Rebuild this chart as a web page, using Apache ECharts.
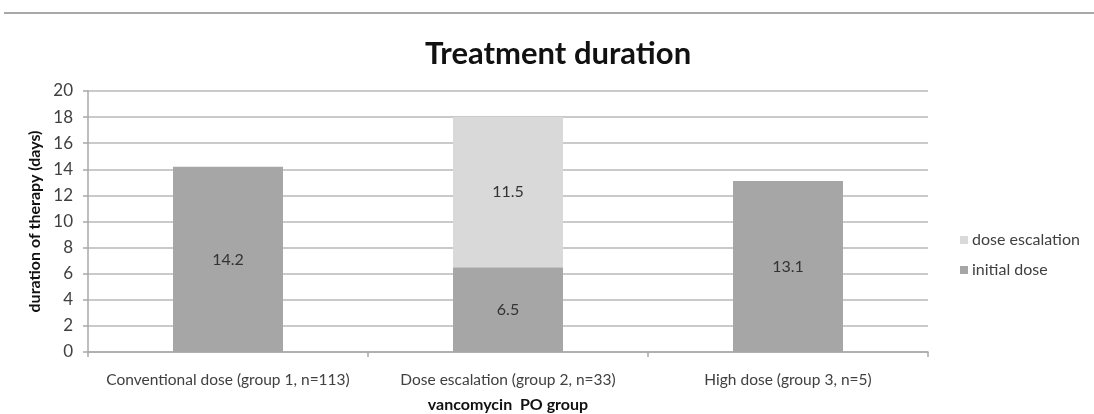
<!DOCTYPE html>
<html>
<head>
<meta charset="utf-8">
<script src="https://cdn.jsdelivr.net/npm/echarts@6/dist/echarts.min.js"></script>
<style>html,body{margin:0;padding:0;background:#fff;}#c{width:1094px;height:414px;}</style>
</head>
<body>
<div id="c"></div>
<script>
var categories = ['Conventional dose (group 1, n=113)', 'Dose escalation (group 2, n=33)', 'High dose (group 3, n=5)'];
var initialDose = [14.2, 6.5, 13.1];
var doseEscalation = [null, 11.5, null];
var yTicks = [0, 20, 2];

var chart = echarts.init(document.getElementById('c'));
var font = 'Lato, "Open Sans", sans-serif';
chart.setOption({
  backgroundColor: '#fff',
  animation: false,
  textStyle: { fontFamily: font },
  title: {
    text: 'Treatment duration',
    left: 553, top: 33, textAlign: 'center',
    textStyle: { fontFamily: font, fontSize: 31, fontWeight: 'bold', color: '#111' }
  },
  graphic: [{
    type: 'line', shape: { x1: 4, y1: 13, x2: 1094, y2: 13 },
    style: { stroke: '#a8a8a8', lineWidth: 2 }
  }],
  legend: {
    orient: 'vertical', left: 955, top: 227, itemWidth: 8, itemHeight: 8, itemGap: 14,
    icon: 'rect',
    data: ['dose escalation', 'initial dose'],
    textStyle: { fontFamily: font, fontSize: 16, color: '#404040', padding: [0, 0, 0, -1] }
  },
  grid: { left: 88, right: 166, top: 91, bottom: 62, containLabel: false, outerBoundsMode: 'none' },
  xAxis: {
    type: 'category', data: categories,
    name: 'vancomycin  PO group', nameLocation: 'middle', nameGap: 45,
    nameTextStyle: { fontFamily: font, fontSize: 16, fontWeight: 'bold', color: '#111' },
    axisLine: { lineStyle: { color: '#a8a8a8', width: 1.5 } },
    axisTick: { show: true, length: 5, alignWithLabel: false, lineStyle: { color: '#a8a8a8', width: 1.5 } },
    axisLabel: { interval: 0, fontFamily: font, fontSize: 15.5, color: '#404040', margin: 20 }
  },
  yAxis: {
    type: 'value', min: yTicks[0], max: yTicks[1], interval: yTicks[2],
    name: 'duration of therapy (days)', nameLocation: 'middle', nameGap: 43,
    nameTextStyle: { fontFamily: font, fontSize: 16, fontWeight: 'bold', color: '#111' },
    axisLine: { show: true, lineStyle: { color: '#a8a8a8', width: 1.5 } },
    axisTick: { show: true, length: 5, lineStyle: { color: '#a8a8a8', width: 1.5 } },
    axisLabel: { fontFamily: font, fontSize: 17, color: '#404040', margin: 15 },
    splitLine: { lineStyle: { color: '#b8b8b8', width: 1.5 } }
  },
  series: [
    {
      name: 'initial dose', type: 'bar', stack: 'total', data: initialDose,
      barWidth: 110,
      itemStyle: { color: '#a6a6a6' },
      label: { show: true, position: 'inside', fontFamily: font, fontSize: 16, color: '#333' }
    },
    {
      name: 'dose escalation', type: 'bar', stack: 'total', data: doseEscalation,
      barWidth: 110,
      itemStyle: { color: '#d9d9d9' },
      label: { show: true, position: 'inside', fontFamily: font, fontSize: 16, color: '#333' }
    }
  ]
});
</script>
</body>
</html>
